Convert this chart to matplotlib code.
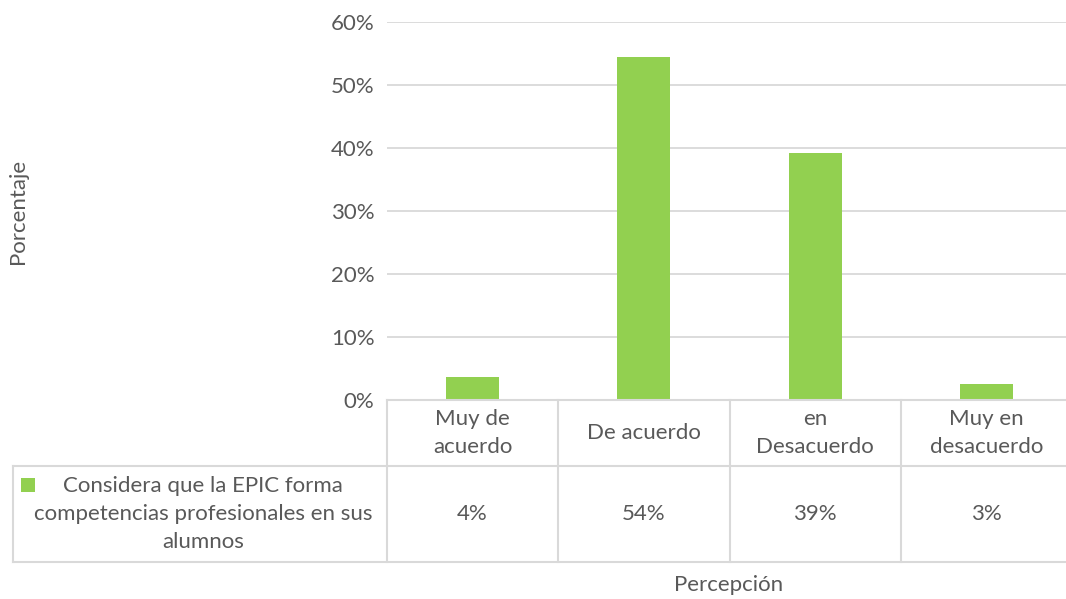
import matplotlib.pyplot as plt
import matplotlib.transforms as mtransforms
from matplotlib.patches import Rectangle

# data
categories = ["Muy de\nacuerdo", "De acuerdo", "en\nDesacuerdo", "Muy en\ndesacuerdo"]
values = [3.7, 54.4, 39.2, 2.5]
table_labels = ["4%", "54%", "39%", "3%"]
series_name = "Considera que la EPIC forma\ncompetencias profesionales en sus\nalumnos"
y_ticks = [0, 10, 20, 30, 40, 50, 60]

W, H = 1066, 599
GREEN = "#92D050"
TEXT = "#595959"
GRID = "#D9D9D9"
FS = 16
LS = 1.5

plt.rcParams['font.family'] = ['Lato', 'DejaVu Sans']

fig = plt.figure(figsize=(W / 100, H / 100), dpi=100)

# plot area in pixel coords
left, right, top, bottom = 387, 1072, 22, 400
ax = fig.add_axes([left / W, 1 - bottom / H, (right - left) / W, (bottom - top) / H])

x = range(len(categories))
ax.bar(x, values, width=0.31, color=GREEN, zorder=3)
ax.set_xlim(-0.5, len(categories) - 0.5)
ax.set_ylim(0, 60)
ax.set_yticks(y_ticks)
ax.set_yticklabels([f"{t}%" for t in y_ticks], fontsize=FS, color=TEXT)
ax.tick_params(axis='y', length=0, pad=9)
ax.set_xticks([])
ax.grid(axis='y', color=GRID, linewidth=1.3, zorder=0)
for s in ax.spines.values():
    s.set_visible(False)

# data table below the plot
row1 = 466
row2 = 562
tleft = 13
fy = lambda py: 1 - py / H
fx = lambda px: px / W
trans = mtransforms.blended_transform_factory(ax.transData, fig.transFigure)

line_kw = dict(color=GRID, linewidth=1.5)
# horizontal lines
fig.add_artist(plt.Line2D([fx(left), fx(right + 10)], [fy(bottom), fy(bottom)], **line_kw))
fig.add_artist(plt.Line2D([fx(tleft), fx(right + 10)], [fy(row1), fy(row1)], **line_kw))
fig.add_artist(plt.Line2D([fx(tleft), fx(right + 10)], [fy(row2), fy(row2)], **line_kw))
# vertical lines
fig.add_artist(plt.Line2D([fx(tleft), fx(tleft)], [fy(row1), fy(row2)], **line_kw))
for b in range(len(categories)):
    xb = b - 0.5
    ax.add_artist(plt.Line2D([xb, xb], [fy(bottom), fy(row2)], transform=trans, clip_on=False, **line_kw))

for i, (cat, lab) in enumerate(zip(categories, table_labels)):
    ax.text(i, fy((bottom + row1) / 2), cat, transform=trans, ha='center', va='center',
            fontsize=FS, color=TEXT, linespacing=LS)
    ax.text(i, fy((row1 + row2) / 2), lab, transform=trans, ha='center', va='center',
            fontsize=FS, color=TEXT)

# legend key and series name
fig.add_artist(Rectangle((fx(21), fy(492)), 14 / W, 14 / H, transform=fig.transFigure,
                         facecolor=GREEN, edgecolor='none'))
fig.text(fx(203), fy((row1 + row2) / 2), series_name, ha='center', va='center',
         fontsize=FS, color=TEXT, linespacing=LS)

# axis titles
fig.text(fx(18), fy(211), "Porcentaje", rotation=90, ha='center', va='center',
         fontsize=FS, color=TEXT)
fig.text(fx(729), fy(585), "Percepción", ha='center', va='center',
         fontsize=FS, color=TEXT)

fig.savefig("out.png", dpi=100)
